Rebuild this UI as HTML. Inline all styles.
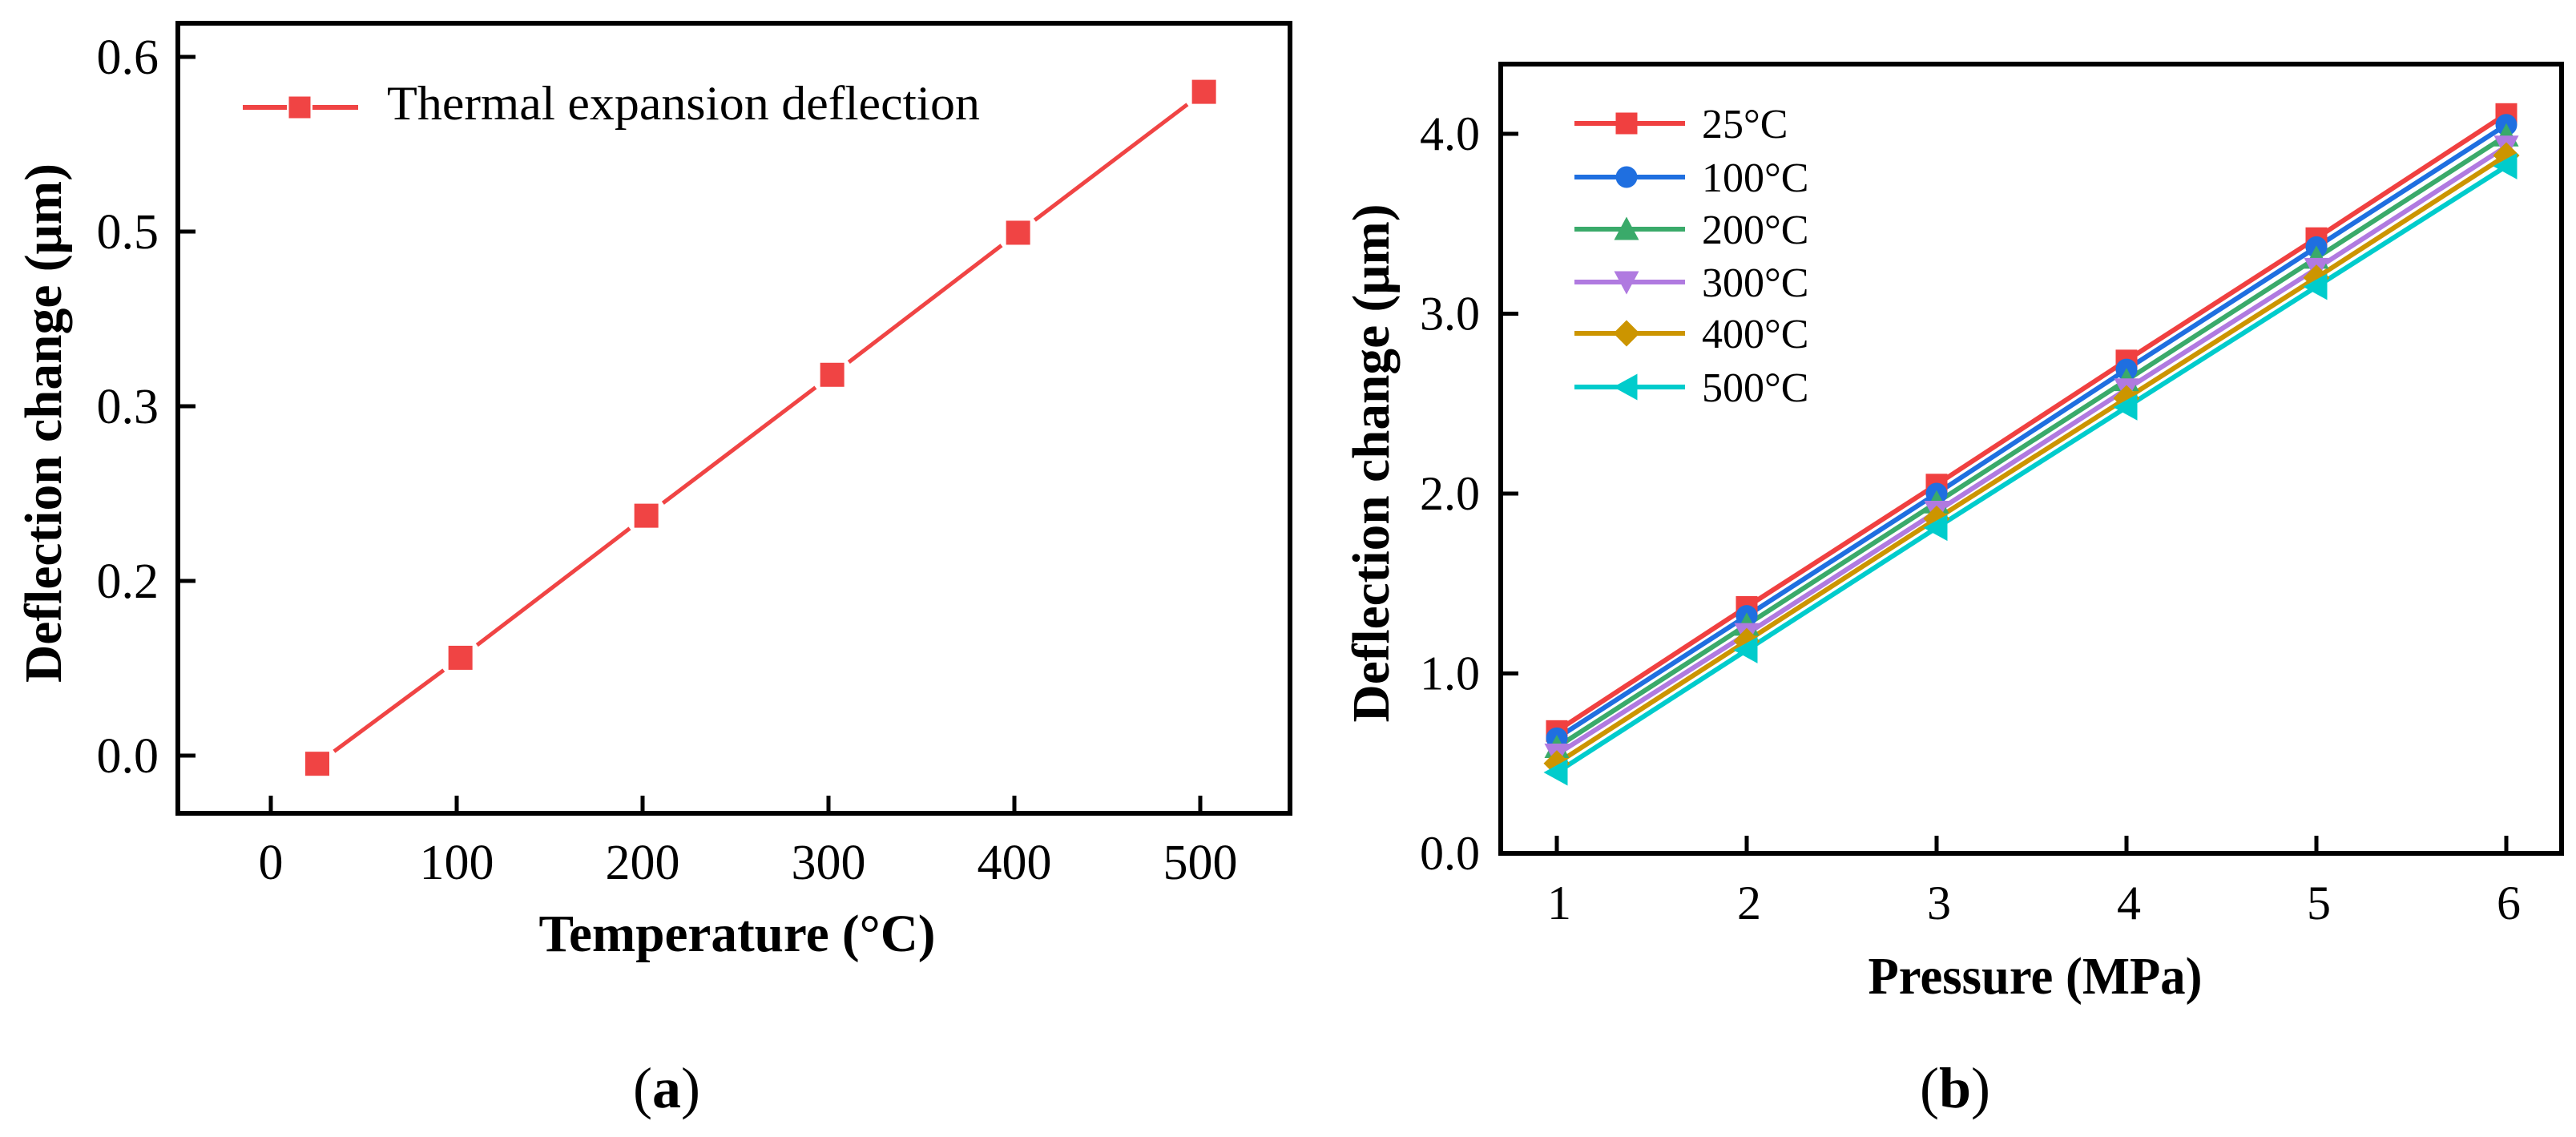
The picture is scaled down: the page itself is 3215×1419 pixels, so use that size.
<!DOCTYPE html>
<html><head><meta charset="utf-8"><style>
html,body{margin:0;padding:0;background:#fff;}
svg{display:block;font-family:"Liberation Serif",serif;}
</style></head><body>
<svg id="fig" width="3215" height="1419" viewBox="0 0 3215 1419">
<g id="pa"></g>
<g id="pb"></g>
<text x="832" y="1382" font-size="72" text-anchor="middle">(<tspan font-weight="bold">a</tspan>)</text>
<text x="2440" y="1382" font-size="72" text-anchor="middle">(<tspan font-weight="bold">b</tspan>)</text>
</svg>
<script>
// Panel (a) data
const aTemps = [25, 102, 202, 302, 402, 502];
const aDefl = [-0.007, 0.084, 0.206, 0.327, 0.449, 0.570];
const aXTicks = [0, 100, 200, 300, 400, 500];
const aYTickVals = [0, 0.15, 0.3, 0.45, 0.6];
const aYTickLabels = ["0.0", "0.2", "0.3", "0.5", "0.6"];
// Panel (b) data
const bPressure = [1, 2, 3, 4, 5, 6];
const bSeriesNames = ["25°C", "100°C", "200°C", "300°C", "400°C", "500°C"];
const b25 = [0.68, 1.37, 2.05, 2.74, 3.42, 4.11];
const b100 = [0.64, 1.32, 2.00, 2.69, 3.37, 4.05];
const b200 = [0.59, 1.27, 1.95, 2.63, 3.31, 3.99];
const b300 = [0.55, 1.22, 1.90, 2.58, 3.25, 3.93];
const b400 = [0.50, 1.18, 1.86, 2.53, 3.20, 3.88];
const b500 = [0.45, 1.13, 1.81, 2.48, 3.15, 3.82];
const bYTicks = [0, 1, 2, 3, 4];
const bYTickLabels = ["0.0", "1.0", "2.0", "3.0", "4.0"];

const NS = "http://www.w3.org/2000/svg";
function mk(parent, tag, attrs, text) {
  const e = document.createElementNS(NS, tag);
  for (const k in attrs) e.setAttribute(k, attrs[k]);
  if (text !== undefined) e.textContent = text;
  parent.appendChild(e);
  return e;
}
function marker(g, shape, cx, cy, s, color) {
  let e;
  const h = s / 2;
  if (shape === "square") e = mk(g, "rect", {x: cx - h, y: cy - h, width: s, height: s, fill: color});
  else if (shape === "circle") e = mk(g, "circle", {cx: cx, cy: cy, r: h, fill: color});
  else if (shape === "up") e = mk(g, "polygon", {points: `${cx},${cy - h - 2} ${cx + h + 2},${cy + h} ${cx - h - 2},${cy + h}`, fill: color});
  else if (shape === "down") e = mk(g, "polygon", {points: `${cx},${cy + h + 2} ${cx + h + 2},${cy - h} ${cx - h - 2},${cy - h}`, fill: color});
  else if (shape === "diamond") e = mk(g, "polygon", {points: `${cx},${cy - h - 3} ${cx + h + 3},${cy} ${cx},${cy + h + 3} ${cx - h - 3},${cy}`, fill: color});
  else e = mk(g, "polygon", {points: `${cx - h - 3},${cy} ${cx + h},${cy - h - 3} ${cx + h},${cy + h + 3}`, fill: color});
  return e;
}

// ---- Panel A ----
(function () {
  const g = document.getElementById("pa");
  const L = 222, T = 29, R = 1610, B = 1015;
  const xs = v => 338 + (v - 0) * (1498 - 338) / 500;
  const ys = v => 943 - v * (943 - 71) / 0.6;
  const box = mk(g, "rect", {x: L, y: T, width: R - L, height: B - T, fill: "none", stroke: "#000", "stroke-width": 6});
  
  
  aXTicks.forEach(t => {
    const x = xs(t);
    const tk = mk(g, "line", {x1: x, y1: B, x2: x, y2: B - 22, stroke: "#000", "stroke-width": 5});
    
    
    const lb = mk(g, "text", {x: x, y: 1097, "font-size": 62, "text-anchor": "middle"}, String(t));
    
    
  });
  aYTickVals.forEach((v, i) => {
    const y = ys(v);
    const tk = mk(g, "line", {x1: L, y1: y, x2: L + 22, y2: y, stroke: "#000", "stroke-width": 5});
    
    
    const lb = mk(g, "text", {x: 198, y: y + 21, "font-size": 62, "text-anchor": "end"}, aYTickLabels[i]);
    
    
  });
  const pts = aTemps.map((t, i) => [xs(t), ys(aDefl[i])]);
  for (let i = 0; i < pts.length - 1; i++) {
    const [x1, y1] = pts[i], [x2, y2] = pts[i + 1];
    const dx = x2 - x1, dy = y2 - y1, d = Math.hypot(dx, dy), gap = 26;
    const seg = mk(g, "line", {x1: x1 + dx / d * gap, y1: y1 + dy / d * gap, x2: x2 - dx / d * gap, y2: y2 - dy / d * gap, stroke: "#f04444", "stroke-width": 5});
    
    
  }
  pts.forEach(p => {
    const m = marker(g, "square", p[0], p[1], 30, "#f04444");
    
    
  });
  const lg = mk(g, "g", {});
  
  
  mk(lg, "line", {x1: 303, y1: 134, x2: 358, y2: 134, stroke: "#f04444", "stroke-width": 6});
  mk(lg, "line", {x1: 390, y1: 134, x2: 447, y2: 134, stroke: "#f04444", "stroke-width": 6});
  marker(lg, "square", 374, 134, 27, "#f04444");
  mk(lg, "text", {x: 483, y: 149, "font-size": 60, textLength: 740, lengthAdjust: "spacingAndGlyphs"}, "Thermal expansion deflection");
  const xt = mk(g, "text", {x: 920, y: 1187, "font-size": 66, "font-weight": "bold", "text-anchor": "middle", textLength: 495, lengthAdjust: "spacingAndGlyphs"}, "Temperature (°C)");
  
  
  const yt = mk(g, "text", {x: 0, y: 0, "font-size": 66, "font-weight": "bold", "text-anchor": "middle", textLength: 648, lengthAdjust: "spacingAndGlyphs", transform: "translate(76,528) rotate(-90)"}, "Deflection change (μm)");
  
  
})();

// ---- Panel B ----
(function () {
  const g = document.getElementById("pb");
  const L = 1873, T = 80, R = 3197, B = 1065;
  const xs = v => 1943 + (v - 1) * (3128 - 1943) / 5;
  const ys = v => 1065 - v * (1065 - 167) / 4;
  const box = mk(g, "rect", {x: L, y: T, width: R - L, height: B - T, fill: "none", stroke: "#000", "stroke-width": 6});
  
  
  bPressure.forEach(p => {
    const x = xs(p);
    const tk = mk(g, "line", {x1: x, y1: B, x2: x, y2: B - 22, stroke: "#000", "stroke-width": 5});
    
    
    const lb = mk(g, "text", {x: x + 3, y: 1147, "font-size": 60, "text-anchor": "middle"}, String(p));
    
    
  });
  bYTicks.forEach((v, i) => {
    const y = ys(v);
    const tk = mk(g, "line", {x1: L, y1: y, x2: L + 22, y2: y, stroke: "#000", "stroke-width": 5});
    
    
    const lb = mk(g, "text", {x: 1847, y: y + 20, "font-size": 60, "text-anchor": "end"}, bYTickLabels[i]);
    
    
  });
  const series = [b25, b100, b200, b300, b400, b500];
  const colors = ["#f04040", "#1f6fe0", "#3aaa6a", "#b07ae0", "#cc9500", "#00cccc"];
  const shapes = ["square", "circle", "up", "down", "diamond", "left"];
  series.forEach((s, k) => {
    const d = s.map((v, i) => (i ? "L" : "M") + xs(bPressure[i]) + "," + ys(v)).join(" ");
    const p = mk(g, "path", {d: d, fill: "none", stroke: colors[k], "stroke-width": 6});
    
    
  });
  series.forEach((s, k) => {
    s.forEach((v, i) => {
      const m = marker(g, shapes[k], xs(bPressure[i]), ys(v), 27, colors[k]);
      
      
    });
  });
  const rows = [154, 221, 286, 352, 416, 483];
  series.forEach((s, k) => {
    const lg = mk(g, "g", {});
    
    
    mk(lg, "line", {x1: 1965, y1: rows[k], x2: 2103, y2: rows[k], stroke: colors[k], "stroke-width": 6});
    marker(lg, shapes[k], 2030, rows[k], 27, colors[k]);
    mk(lg, "text", {x: 2124, y: rows[k] + 18, "font-size": 52}, bSeriesNames[k]);
  });
  const xt = mk(g, "text", {x: 2540, y: 1240, "font-size": 66, "font-weight": "bold", "text-anchor": "middle", textLength: 417, lengthAdjust: "spacingAndGlyphs"}, "Pressure (MPa)");
  
  
  const yt = mk(g, "text", {x: 0, y: 0, "font-size": 66, "font-weight": "bold", "text-anchor": "middle", textLength: 647, lengthAdjust: "spacingAndGlyphs", transform: "translate(1733,578) rotate(-90)"}, "Deflection change (μm)");
  
  
})();
</script>
</body></html>
